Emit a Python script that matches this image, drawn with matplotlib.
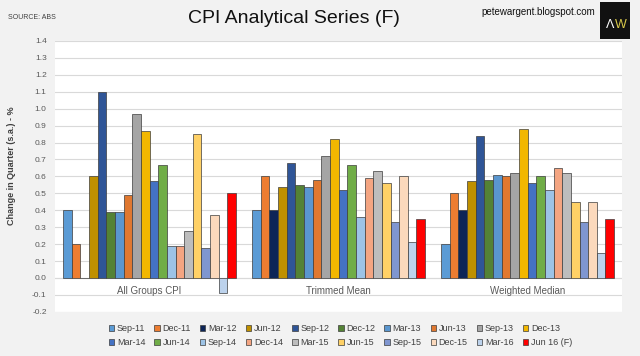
import numpy as np
import matplotlib
matplotlib.use("Agg")
import matplotlib.pyplot as plt
from matplotlib.patches import Rectangle, Patch

plt.rcParams['font.family'] = ['Liberation Sans', 'DejaVu Sans']

## Data
groups = ["All Groups CPI", "Trimmed Mean", "Weighted Median"]
quarters = ["Sep-11", "Dec-11", "Mar-12", "Jun-12", "Sep-12", "Dec-12", "Mar-13",
            "Jun-13", "Sep-13", "Dec-13", "Mar-14", "Jun-14", "Sep-14", "Dec-14",
            "Mar-15", "Jun-15", "Sep-15", "Dec-15", "Mar-16", "Jun 16 (F)"]
all_groups = [0.40, 0.20, 0.00, 0.60, 1.10, 0.39, 0.39, 0.49, 0.97, 0.87,
              0.57, 0.67, 0.19, 0.19, 0.28, 0.85, 0.18, 0.37, -0.09, 0.50]
trimmed_mean = [0.40, 0.60, 0.40, 0.54, 0.68, 0.55, 0.54, 0.58, 0.72, 0.82,
                0.52, 0.67, 0.36, 0.59, 0.63, 0.56, 0.33, 0.60, 0.21, 0.35]
weighted_median = [0.20, 0.50, 0.40, 0.57, 0.84, 0.58, 0.61, 0.60, 0.62, 0.88,
                   0.56, 0.60, 0.52, 0.65, 0.62, 0.45, 0.33, 0.45, 0.15, 0.35]
colors = ["#5B9BD5", "#ED7D31", "#0D2557", "#BF9000", "#2F5597", "#548235", "#5A96CF",
          "#E07830", "#A5A5A5", "#F2B700", "#4472C4", "#70AD47", "#9DC3E6", "#F4A582",
          "#BDBDBD", "#FFD166", "#7F96D0", "#FBD9BC", "#BCD2EC", "#FF0000"]

values = np.array([all_groups, trimmed_mean, weighted_median])

fig = plt.figure(figsize=(6.4, 3.56), dpi=100, facecolor="#F2F2F2")
ax = fig.add_axes([0.086, 0.124, 0.886, 0.761])
ax.set_facecolor("white")

n = len(quarters)
w = 0.0458
x = np.arange(len(groups))
handles = []
for i in range(n):
    pos = x + (i - (n - 1) / 2) * w
    ax.bar(pos, values[:, i], w, color=colors[i], edgecolor="#3C3C3C", lw=0.5, zorder=3)
    handles.append(Patch(facecolor=colors[i], edgecolor="#3C3C3C", lw=0.5, label=quarters[i]))

ax.set_xlim(-0.5, 2.5)
ax.set_ylim(-0.2, 1.4)
ax.set_yticks(np.arange(-0.2, 1.41, 0.1))
ax.set_yticklabels(["%.1f" % v for v in np.arange(-0.2, 1.41, 0.1)], fontsize=6, color="#595959")
ax.set_xticks([])
ax.tick_params(axis="y", length=0, pad=6)
ax.grid(axis="y", color="#D9D9D9", lw=0.8, zorder=0)
ax.axhline(0, color="#D9D9D9", lw=0.8, zorder=1)
for s in ax.spines.values():
    s.set_visible(False)

for xi, g in zip(x, groups):
    ax.text(xi, -0.077, g, ha="center", va="center", fontsize=7, color="#595959", zorder=4)

ax.set_ylabel("Change in Quarter (s.a.) - %", fontsize=6.5, fontweight="bold", color="#404040")
ax.yaxis.set_label_coords(-0.068, 0.54)

# legend is filled column-wise, so interleave the two rows
order = [j for k in range(10) for j in (k, k + 10)]
leg = fig.legend([handles[j] for j in order], [quarters[j] for j in order], ncol=10,
                 loc="center", bbox_to_anchor=(0.532, 0.057), frameon=False, fontsize=6.5,
                 handlelength=0.6, handleheight=0.6, handletextpad=0.3, columnspacing=1.0,
                 labelspacing=0.5)
for t in leg.get_texts():
    t.set_color("#404040")

fig.text(0.46, 0.948, "CPI Analytical Series (F)", ha="center", va="center", fontsize=14, color="#111111")
fig.text(0.012, 0.95, "SOURCE: ABS", ha="left", va="center", fontsize=5, color="#404040")
fig.text(0.93, 0.965, "petewargent.blogspot.com", ha="right", va="center", fontsize=7, color="#111111")
fig.patches.append(Rectangle((0.938, 0.89), 0.047, 0.103, transform=fig.transFigure,
                             facecolor="#111111", edgecolor="none"))
fig.text(0.954, 0.93, "Λ", ha="center", va="center", fontsize=9, color="white")
fig.text(0.97, 0.93, "W", ha="center", va="center", fontsize=9, color="#D9C94A")

fig.savefig("out.png", dpi=100, facecolor=fig.get_facecolor())
